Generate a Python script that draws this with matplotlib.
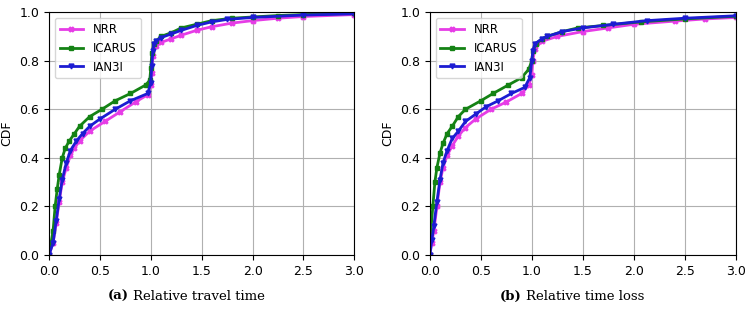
import matplotlib
matplotlib.use('Agg')
import matplotlib.pyplot as plt

# (a) relative travel time: (x, CDF) points
a_nrr_x = [0, 0.04, 0.07, 0.10, 0.13, 0.17, 0.21, 0.25, 0.30, 0.40, 0.55, 0.70, 0.85, 0.97, 1.00, 1.01, 1.02, 1.05, 1.10, 1.20, 1.30, 1.45, 1.60, 1.80, 2.00, 2.25, 2.50, 3.00]
a_nrr_y = [0, 0.05, 0.13, 0.22, 0.30, 0.36, 0.41, 0.44, 0.47, 0.51, 0.55, 0.59, 0.63, 0.66, 0.70, 0.75, 0.82, 0.86, 0.875, 0.89, 0.905, 0.925, 0.94, 0.955, 0.965, 0.975, 0.982, 0.99]
a_ica_x = [0, 0.02, 0.04, 0.06, 0.08, 0.10, 0.13, 0.16, 0.20, 0.25, 0.30, 0.40, 0.52, 0.65, 0.80, 0.95, 0.99, 1.00, 1.01, 1.03, 1.05, 1.10, 1.20, 1.30, 1.45, 1.60, 1.80, 2.00, 2.25, 2.50, 3.00]
a_ica_y = [0, 0.05, 0.10, 0.20, 0.27, 0.33, 0.40, 0.44, 0.47, 0.50, 0.53, 0.57, 0.60, 0.635, 0.665, 0.70, 0.72, 0.77, 0.83, 0.87, 0.88, 0.90, 0.915, 0.935, 0.95, 0.965, 0.975, 0.98, 0.986, 0.99, 0.995]
a_ian_x = [0, 0.04, 0.07, 0.10, 0.13, 0.17, 0.21, 0.27, 0.33, 0.40, 0.50, 0.65, 0.80, 0.97, 1.00, 1.01, 1.02, 1.03, 1.05, 1.10, 1.20, 1.30, 1.45, 1.60, 1.75, 2.00, 2.50, 3.00]
a_ian_y = [0, 0.05, 0.14, 0.23, 0.31, 0.38, 0.43, 0.47, 0.50, 0.53, 0.56, 0.60, 0.635, 0.665, 0.71, 0.78, 0.84, 0.87, 0.88, 0.895, 0.91, 0.925, 0.945, 0.96, 0.97, 0.978, 0.988, 0.993]

# (b) relative time loss
b_nrr_x = [0, 0.02, 0.04, 0.07, 0.10, 0.13, 0.17, 0.22, 0.28, 0.35, 0.45, 0.60, 0.75, 0.90, 0.97, 1.00, 1.01, 1.03, 1.10, 1.25, 1.50, 1.75, 2.00, 2.40, 2.70, 3.00]
b_nrr_y = [0, 0.05, 0.10, 0.20, 0.30, 0.36, 0.41, 0.45, 0.49, 0.525, 0.56, 0.60, 0.63, 0.665, 0.70, 0.74, 0.80, 0.85, 0.88, 0.90, 0.92, 0.935, 0.95, 0.963, 0.972, 0.978]
b_ica_x = [0, 0.01, 0.03, 0.05, 0.07, 0.10, 0.13, 0.17, 0.22, 0.28, 0.35, 0.50, 0.62, 0.77, 0.90, 0.97, 1.00, 1.01, 1.04, 1.10, 1.15, 1.30, 1.45, 1.70, 2.07, 2.50, 3.00]
b_ica_y = [0, 0.10, 0.20, 0.30, 0.36, 0.42, 0.46, 0.50, 0.53, 0.57, 0.60, 0.635, 0.665, 0.70, 0.73, 0.765, 0.80, 0.84, 0.87, 0.89, 0.90, 0.92, 0.935, 0.945, 0.96, 0.972, 0.983]
b_ian_x = [0, 0.02, 0.04, 0.07, 0.10, 0.13, 0.17, 0.22, 0.28, 0.35, 0.45, 0.55, 0.67, 0.80, 0.93, 0.98, 1.00, 1.01, 1.03, 1.10, 1.15, 1.30, 1.50, 1.80, 2.13, 2.50, 3.00]
b_ian_y = [0, 0.06, 0.12, 0.22, 0.31, 0.38, 0.43, 0.48, 0.51, 0.55, 0.58, 0.61, 0.635, 0.665, 0.69, 0.73, 0.80, 0.84, 0.87, 0.89, 0.90, 0.92, 0.935, 0.95, 0.965, 0.975, 0.985]

labels = ['NRR', 'ICARUS', 'IAN3I']
colors = ['#e63ce6', '#148214', '#1c1cd2']
markers = ['X', 's', 'v']

fig = plt.figure(figsize=(7.54, 3.11), dpi=100)
axes = [fig.add_axes([0.065, 0.180, 0.405, 0.781]),
        fig.add_axes([0.570, 0.180, 0.406, 0.781])]

panels = [
    [(a_nrr_x, a_nrr_y), (a_ica_x, a_ica_y), (a_ian_x, a_ian_y)],
    [(b_nrr_x, b_nrr_y), (b_ica_x, b_ica_y), (b_ian_x, b_ian_y)],
]

for ax, series in zip(axes, panels):
    for (x, y), lab, c, m in zip(series, labels, colors, markers):
        ax.plot(x, y, color=c, marker=m, markersize=3.5, linewidth=2, label=lab)
    ax.set_xlim(0, 3)
    ax.set_ylim(0, 1)
    ax.set_xticks([0, 0.5, 1.0, 1.5, 2.0, 2.5, 3.0])
    ax.set_yticks([0, 0.2, 0.4, 0.6, 0.8, 1.0])
    ax.grid(True, color='#b0b0b0', linewidth=0.8)
    ax.tick_params(labelsize=9)
    ax.set_ylabel('CDF', fontsize=9, labelpad=4)
    ax.legend(loc='upper left', fontsize=8.5, handlelength=2)

fig.text(0.171, 0.048, '(a)', ha='right', va='center', family='DejaVu Serif', weight='bold', fontsize=9.5)
fig.text(0.176, 0.048, 'Relative travel time', ha='left', va='center', family='DejaVu Serif', fontsize=9.5)
fig.text(0.692, 0.048, '(b)', ha='right', va='center', family='DejaVu Serif', weight='bold', fontsize=9.5)
fig.text(0.697, 0.048, 'Relative time loss', ha='left', va='center', family='DejaVu Serif', fontsize=9.5)

plt.savefig('out.png', dpi=100)
